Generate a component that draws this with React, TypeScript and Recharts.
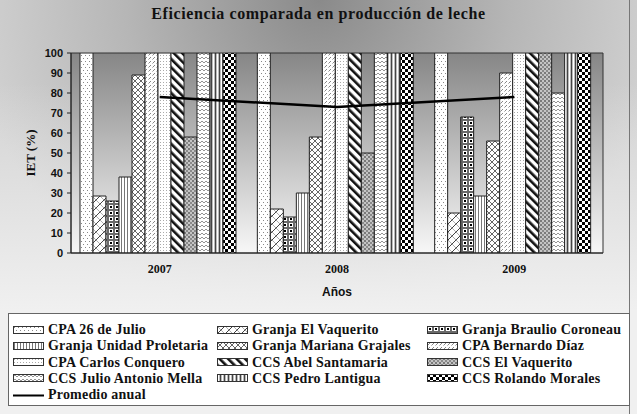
import React from "react";
import {
  ComposedChart,
  Bar,
  Line,
  XAxis,
  YAxis,
  CartesianGrid,
  ReferenceArea,
} from "recharts";

const years = ["2007", "2008", "2009"];

const cpa26deJulio = [100, 100, 100];
const granjaElVaquerito = [28.5, 22, 20];
const granjaBraulioCoroneau = [26, 18, 68];
const granjaUnidadProletaria = [38, 30, 28.5];
const granjaMarianaGrajales = [89, 58, 56];
const cpaBernardoDiaz = [100, 100, 90];
const cpaCarlosConquero = [100, 100, 100];
const ccsAbelSantamaria = [100, 100, 100];
const ccsElVaquerito = [58, 50, 100];
const ccsJulioAntonioMella = [100, 100, 80];
const ccsPedroLantigua = [100, 100, 100];
const ccsRolandoMorales = [100, 100, 100];
const promedioAnual = [78, 73, 78];

const yTicks = [0, 10, 20, 30, 40, 50, 60, 70, 80, 90, 100];

const series: [string, number[]][] = [
  ["CPA 26 de Julio", cpa26deJulio],
  ["Granja El Vaquerito", granjaElVaquerito],
  ["Granja Braulio Coroneau", granjaBraulioCoroneau],
  ["Granja Unidad Proletaria", granjaUnidadProletaria],
  ["Granja Mariana Grajales", granjaMarianaGrajales],
  ["CPA Bernardo Díaz", cpaBernardoDiaz],
  ["CPA Carlos Conquero", cpaCarlosConquero],
  ["CCS Abel Santamaria", ccsAbelSantamaria],
  ["CCS El Vaquerito", ccsElVaquerito],
  ["CCS Julio Antonio Mella", ccsJulioAntonioMella],
  ["CCS Pedro Lantigua", ccsPedroLantigua],
  ["CCS Rolando Morales", ccsRolandoMorales],
];

const data = years.map((year, i) => {
  const row: Record<string, string | number> = { year, promedio: promedioAnual[i] };
  series.forEach(([name, vals], s) => {
    row["s" + s] = vals[i];
  });
  return row;
});

const serif = "'Liberation Serif', 'Times New Roman', serif";
const sans = "'Liberation Sans', Arial, sans-serif";

function Patterns() {
  return (
    <defs>
      <linearGradient id="plotBg" x1="0" y1="0" x2="0" y2="1">
        <stop offset="0%" stopColor="#868686" />
        <stop offset="100%" stopColor="#f7f7f7" />
      </linearGradient>
      {/* 0 sparse dots */}
      <pattern id="pat0" width="4" height="6" patternUnits="userSpaceOnUse">
        <rect width="4" height="6" fill="#fff" />
        <rect x="1" y="1" width="1" height="1" fill="#888" />
        <rect x="3" y="4" width="1" height="1" fill="#888" />
      </pattern>
      {/* 1 wide diagonal hatch */}
      <pattern id="pat1" width="8" height="8" patternUnits="userSpaceOnUse">
        <rect width="8" height="8" fill="#fff" />
        <path d="M0,8 L8,0 M-2,2 L2,-2 M6,10 L10,6" stroke="#444" strokeWidth="1" />
        <path d="M0,0 L8,8" stroke="#999" strokeWidth="0.8" />
      </pattern>
      {/* 2 dark cells */}
      <pattern id="pat2" width="6" height="6" patternUnits="userSpaceOnUse">
        <rect width="6" height="6" fill="#6a6a6a" />
        <rect x="1" y="1" width="4" height="4" fill="#fff" />
        <rect x="2" y="2" width="2" height="2" fill="#000" />
      </pattern>
      {/* 3 vertical lines */}
      <pattern id="pat3" width="3" height="3" patternUnits="userSpaceOnUse">
        <rect width="3" height="3" fill="#fff" />
        <rect x="1" width="1" height="3" fill="#777" />
      </pattern>
      {/* 4 crosshatch */}
      <pattern id="pat4" width="6" height="6" patternUnits="userSpaceOnUse">
        <rect width="6" height="6" fill="#fff" />
        <path d="M0,0 L6,6 M0,6 L6,0" stroke="#555" strokeWidth="0.9" />
      </pattern>
      {/* 5 light diagonal dashes */}
      <pattern id="pat5" width="4" height="4" patternUnits="userSpaceOnUse">
        <rect width="4" height="4" fill="#fff" />
        <path d="M0.5,3.5 L3,1" stroke="#888" strokeWidth="1" />
      </pattern>
      {/* 6 dense dots */}
      <pattern id="pat6" width="3" height="3" patternUnits="userSpaceOnUse">
        <rect width="3" height="3" fill="#fff" />
        <rect x="1" y="1" width="1" height="1" fill="#aaa" />
      </pattern>
      {/* 7 thick diagonal stripes */}
      <pattern id="pat7" width="6" height="6" patternUnits="userSpaceOnUse" patternTransform="rotate(-45)">
        <rect width="6" height="6" fill="#fff" />
        <rect width="2.6" height="6" fill="#111" />
      </pattern>
      {/* 8 gray fine check */}
      <pattern id="pat8" width="4" height="4" patternUnits="userSpaceOnUse">
        <rect width="4" height="4" fill="#c4c4c4" />
        <rect width="2" height="2" fill="#7a7a7a" />
        <rect x="2" y="2" width="2" height="2" fill="#8a8a8a" />
      </pattern>
      {/* 9 zigzag */}
      <pattern id="pat9" width="4" height="4" patternUnits="userSpaceOnUse">
        <rect width="4" height="4" fill="#fff" />
        <path d="M0,3 L2,1 L4,3" stroke="#888" strokeWidth="0.9" fill="none" />
      </pattern>
      {/* 10 vertical stripes */}
      <pattern id="pat10" width="4" height="4" patternUnits="userSpaceOnUse">
        <rect width="4" height="4" fill="#bbb" />
        <rect x="1" width="1" height="4" fill="#fff" />
        <rect x="3" width="1" height="4" fill="#444" />
      </pattern>
      {/* 11 checkerboard */}
      <pattern id="pat11" width="6" height="6" patternUnits="userSpaceOnUse">
        <rect width="6" height="6" fill="#fff" />
        <rect width="3" height="3" fill="#000" />
        <rect x="3" y="3" width="3" height="3" fill="#000" />
      </pattern>
    </defs>
  );
}

function YLabel() {
  return (
    <text
      x={30}
      y={153}
      transform="rotate(-90 30 153)"
      textAnchor="middle"
      dominantBaseline="central"
      fontFamily={serif}
      fontWeight="bold"
      fontSize={13}
      fill="#111"
    >
      IET (%)
    </text>
  );
}

export default function App() {
  return (
    <div
      style={{
        position: "absolute",
        left: 0,
        top: 0,
        width: 637,
        height: 414,
        background:
          "linear-gradient(to bottom, rgba(238,238,238,0) 20%, rgba(240,240,240,1) 75%), radial-gradient(ellipse 55% 80% at 50% 0%, #8a8a8a 0%, #b6b6b6 55%, #d2d2d2 100%)",
        overflow: "hidden",
      }}
    >
      <div
        style={{
          position: "absolute",
          left: 629,
          top: 0,
          width: 1,
          height: 414,
          background: "#777",
        }}
      />
      <div
        style={{
          position: "absolute",
          top: 5,
          left: 0,
          width: 637,
          textAlign: "center",
          fontFamily: serif,
          fontWeight: "bold",
          fontSize: 16,
          letterSpacing: 0.6,
          color: "#111",
        }}
      >
        Eficiencia comparada en producción de leche
      </div>

      <div style={{ position: "absolute", left: 0, top: 0 }}>
        <ComposedChart
          width={637}
          height={414}
          data={data}
          margin={{ top: 53, right: 34, left: 0, bottom: 113 }}
          barCategoryGap={9}
          barGap={0}
        >
          <Patterns />
          <CartesianGrid fill="url(#plotBg)" fillOpacity={1} horizontal={false} vertical={false} />
          <XAxis
            dataKey="year"
            height={48}
            tickLine={false}
            tickSize={6}
            tickMargin={5}
            axisLine={{ stroke: "#222" }}
            tick={{ fontFamily: serif, fontWeight: "bold", fontSize: 12, fill: "#111" }}
            label={{
              value: "Años",
              position: "insideBottom",
              offset: 5,
              style: { fontFamily: sans, fontWeight: "bold", fontSize: 12, fill: "#111" },
            }}
          />
          <YAxis
            width={71}
            domain={[0, 100]}
            ticks={yTicks}
            interval={0}
            allowDataOverflow
            tickSize={4}
            tickMargin={4}
            axisLine={{ stroke: "#222" }}
            tickLine={{ stroke: "#222" }}
            tick={{ fontFamily: sans, fontWeight: "bold", fontSize: 11, fill: "#111" }}
            label={{ content: () => <YLabel /> }}
          />
          {series.map(([name], s) => (
            <Bar
              key={name}
              dataKey={"s" + s}
              name={name}
              fill={`url(#pat${s})`}
              stroke="#222"
              strokeWidth={1}
              isAnimationActive={false}
            />
          ))}
          <Line
            dataKey="promedio"
            name="Promedio anual"
            stroke="#000"
            strokeWidth={2.5}
            dot={false}
            type="linear"
            isAnimationActive={false}
          />
          <ReferenceArea y1={0} y2={100} fill="none" stroke="#333" strokeWidth={1} ifOverflow="visible" />
        </ComposedChart>
      </div>

      <div
        style={{
          position: "absolute",
          left: 8,
          top: 313,
          width: 622,
          height: 93,
          boxSizing: "border-box",
          border: "1px solid #666",
          background: "#fff",
          fontFamily: serif,
          fontWeight: "bold",
          fontSize: 14,
          letterSpacing: 0.2,
          color: "#111",
        }}
      >
        {series.map(([name], s) => {
          const col = s % 3;
          const row = Math.floor(s / 3);
          const left = [4, 208, 418][col];
          return (
            <div
              key={name}
              style={{
                position: "absolute",
                left,
                top: 8 + row * 16.3,
                height: 16,
                display: "flex",
                alignItems: "center",
                whiteSpace: "nowrap",
              }}
            >
              <svg width={32} height={9} style={{ marginRight: 3 }}>
                <rect x={0.5} y={0.5} width={30} height={7} fill={`url(#pat${s})`} stroke="#333" />
              </svg>
              {name}
            </div>
          );
        })}
        <div
          style={{
            position: "absolute",
            left: 4,
            top: 8 + 4 * 16.3,
            height: 16,
            display: "flex",
            alignItems: "center",
            whiteSpace: "nowrap",
          }}
        >
          <svg width={32} height={9} style={{ marginRight: 3 }}>
            <line x1={0} y1={4.5} x2={31} y2={4.5} stroke="#000" strokeWidth={2} />
          </svg>
          Promedio anual
        </div>
      </div>
    </div>
  );
}
